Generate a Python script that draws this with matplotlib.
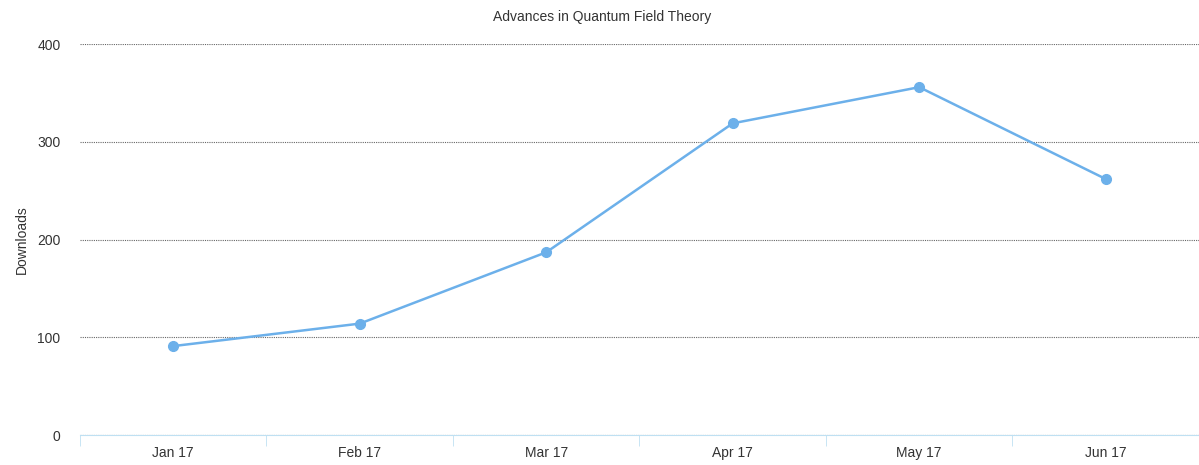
import matplotlib.pyplot as plt

plt.rcParams['font.family'] = ['Liberation Sans', 'DejaVu Sans']

# data
months = ['Jan 17', 'Feb 17', 'Mar 17', 'Apr 17', 'May 17', 'Jun 17']
downloads = [91, 114, 187, 319, 356, 262]
y_ticks = [0, 100, 200, 300, 400]

fig = plt.figure(figsize=(11.99, 4.65), dpi=100)
ax = fig.add_axes([0.0667, 0.0645, 0.9333, 0.8405])

x = list(range(len(months)))
ax.plot(x, downloads, color='#6cb0ea', linewidth=1.8, marker='o', markersize=7,
        markerfacecolor='#6cb0ea', markeredgecolor='#6cb0ea', zorder=3)

ax.set_xlim(-0.5, len(months) - 0.5)
ax.set_ylim(0, 400)
ax.set_yticks(y_ticks)
ax.set_xticks(x)
ax.set_xticklabels(months)
# band boundary ticks like the original category axis
ax.set_xticks([i - 0.5 for i in range(len(months) + 1)], minor=True)
ax.tick_params(axis='x', which='major', length=0, pad=8, labelsize=10, colors='#333333')
ax.tick_params(axis='x', which='minor', length=8, color='#bfe0f2', direction='out')
ax.tick_params(axis='y', length=0, pad=14, labelsize=10, colors='#333333')

ax.grid(axis='y', color='#666666', linestyle=(0, (1, 1)), linewidth=0.8)
ax.set_axisbelow(True)
for side in ['top', 'right', 'left']:
    ax.spines[side].set_visible(False)
ax.spines['bottom'].set_color('#bfe0f2')

ax.set_ylabel('Downloads', fontsize=10, color='#333333', labelpad=6)
fig.text(0.502, 0.963, 'Advances in Quantum Field Theory', fontsize=10,
         color='#333333', ha='center', va='center')

fig.savefig('out.png', dpi=100)
